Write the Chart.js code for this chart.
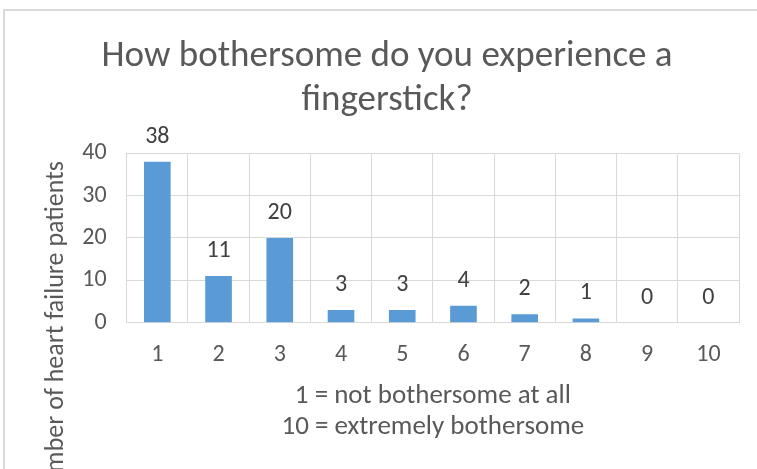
<!DOCTYPE html>
<html>
<head>
<meta charset="utf-8">
<script src="https://cdn.jsdelivr.net/npm/chart.js@4/dist/chart.umd.min.js"></script>
<style>
  html, body { margin: 0; padding: 0; overflow: hidden; background: #fff; }
  #frame {
    position: absolute; left: 3px; top: 9px; width: 800px; height: 520px;
    border-left: 2px solid #d9d9d9; border-top: 2px solid #d9d9d9;
  }
  #wrap { position: absolute; left: 0; top: 0; width: 774px; height: 469px; }
</style>
</head>
<body>
<div id="frame"></div>
<div id="wrap"><canvas id="chart"></canvas></div>
<script>
const categories = ['1', '2', '3', '4', '5', '6', '7', '8', '9', '10'];
const patients = [38, 11, 20, 3, 3, 4, 2, 1, 0, 0];
const yTicks = [0, 10, 20, 30, 40];

const titleLines = ['How bothersome do you experience a', 'fingerstick?'];
const xTitleLines = ['1 = not bothersome at all', '10 = extremely bothersome'];
const yTitle = 'Number of heart failure patients';

const FONT = 'Carlito, Lato, sans-serif';
const GREY = '#595959';
const GRID = '#d9d9d9';

// value labels above each bar
const barLabels = {
    id: 'barLabels',
    afterDatasetsDraw(chart) {
        const ctx = chart.ctx;
        const meta = chart.getDatasetMeta(0);
        ctx.save();
        ctx.font = '24px ' + FONT;
        ctx.fillStyle = '#404040';
        ctx.textAlign = 'center';
        ctx.textBaseline = 'middle';
        meta.data.forEach((bar, i) => {
            ctx.fillText(String(patients[i]), bar.x, bar.y - 25);
        });
        ctx.restore();
    }
};

// y axis title sits low, as in the original (partly cut off)
const yTitlePlugin = {
    id: 'yTitlePlugin',
    afterDraw(chart) {
        const ctx = chart.ctx;
        ctx.save();
        ctx.translate(56.5, 161);
        ctx.rotate(-Math.PI / 2);
        ctx.font = '26px ' + FONT;
        ctx.fillStyle = GREY;
        ctx.textAlign = 'right';
        ctx.textBaseline = 'middle';
        ctx.fillText(yTitle, 0, 0);
        ctx.restore();
    }
};

new Chart(document.getElementById('chart'), {
    type: 'bar',
    data: {
        labels: categories,
        datasets: [{
            data: patients,
            backgroundColor: '#5b9bd5',
            barPercentage: 0.435,
            categoryPercentage: 1
        }]
    },
    options: {
        responsive: true,
        maintainAspectRatio: false,
        animation: false,
        layout: { padding: { left: 0, right: 0, top: 0, bottom: 26.5 } },
        plugins: {
            legend: { display: false },
            tooltip: { enabled: false },
            title: {
                display: true,
                text: titleLines,
                color: GREY,
                font: { family: FONT, size: 37, weight: 'normal', lineHeight: 44 / 37 },
                padding: { top: 34.75, bottom: 30.5 }
            }
        },
        scales: {
            x: {
                grid: { color: GRID, drawTicks: false },
                border: { color: GRID },
                ticks: { color: GREY, font: { family: FONT, size: 24 }, padding: 17.7 },
                title: {
                    display: true,
                    text: xTitleLines,
                    color: GREY,
                    font: { family: FONT, size: 27, lineHeight: 31 / 27 },
                    padding: { top: 0, bottom: 0 }
                },
                afterFit(scale) { scale.height = 119.8; }
            },
            y: {
                min: 0,
                max: 40,
                grid: { color: GRID, drawTicks: false },
                border: { color: GRID },
                afterBuildTicks(scale) { scale.ticks = yTicks.map(v => ({ value: v })); },
                ticks: { color: GREY, font: { family: FONT, size: 24 }, padding: 20 },
                afterFit(scale) { scale.width = 126.7; }
            },
            // empty right-hand spacer so the plot stops short of the right edge
            spacer: {
                type: 'linear',
                position: 'right',
                display: true,
                grid: { display: false },
                border: { display: false },
                ticks: { display: false },
                afterFit(scale) { scale.width = 35; }
            }
        }
    },
    plugins: [barLabels, yTitlePlugin]
});
</script>
</body>
</html>
